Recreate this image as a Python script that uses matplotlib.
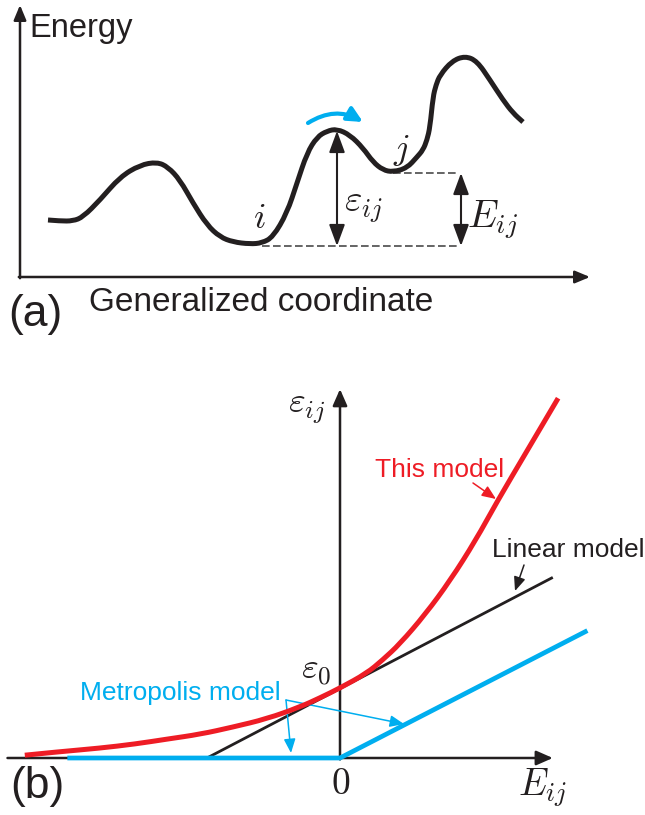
import matplotlib
matplotlib.use("Agg")
import matplotlib.pyplot as plt
from matplotlib.patches import FancyArrowPatch, PathPatch
from matplotlib.path import Path

plt.rcParams['font.family'] = ['Liberation Sans', 'DejaVu Sans']
plt.rcParams['mathtext.fontset'] = 'cm'

# ---------------- data ----------------
# panel (a): energy landscape along a generalized coordinate
coord_a = [0.28, 0.40, 0.53, 0.63, 0.80, 1.00, 1.20, 1.37, 1.48, 1.60, 1.73, 1.87,
           2.00, 2.13, 2.30, 2.42, 2.53, 2.67, 2.77, 2.87, 2.97, 3.07, 3.17, 3.30,
           3.43, 3.53, 3.63, 3.73, 3.87, 3.97, 4.03, 4.07, 4.10, 4.13, 4.16, 4.20,
           4.32, 4.45, 4.57, 4.70, 4.83, 4.93, 5.03]
energy_a = [0.57, 0.56, 0.56, 0.60, 0.77, 1.00, 1.12, 1.15, 1.10, 0.97, 0.74, 0.52,
            0.40, 0.35, 0.33, 0.34, 0.40, 0.64, 0.94, 1.24, 1.40, 1.46, 1.48, 1.42,
            1.29, 1.15, 1.07, 1.05, 1.09, 1.20, 1.27, 1.37, 1.50, 1.80, 1.92, 2.02,
            2.16, 2.21, 2.16, 1.97, 1.77, 1.64, 1.55]
level_i = 0.31      # energy of state i (dashed line)
level_j = 1.04      # energy of state j (dashed line)
barrier_top = 1.46  # energy at saddle between i and j
x_barrier = 3.17
x_Eij = 4.41

# panel (b): activation energy vs energy difference
E_this = [-2.37, -2.11, -1.81, -1.54, -1.30, -1.05, -0.81, -0.55, -0.30, -0.15,
          0.00, 0.20, 0.32, 0.45, 0.64, 0.83, 1.02, 1.18, 1.41, 1.64]
eps_this = [0.04, 0.09, 0.14, 0.20, 0.27, 0.34, 0.44, 0.56, 0.73, 0.86,
            1.00, 1.21, 1.40, 1.63, 2.05, 2.54, 3.11, 3.66, 4.40, 5.14]
E_lin = [-1.00, 1.60]
eps_lin = [0.00, 2.58]
E_met = [-2.05, 0.00, 1.86]
eps_met = [0.00, 0.00, 1.82]

BLACK = '#231F20'
RED = '#EE1C25'
BLUE = '#00AEEF'

W, H = 645, 815
fig = plt.figure(figsize=(6.45, 8.15), dpi=100)
fig.patch.set_facecolor('white')


def fp(x, y):
    return (x / W, 1 - y / H)


def ftext(x, y, s, **kw):
    fig.text(*fp(x, y), s, transform=fig.transFigure, **kw)


def smooth_curve(ax, xs, ys, **kw):
    """Draw a smooth quadratic-Bezier line through the given read points."""
    pts = list(zip(xs, ys))
    verts = [pts[0]]
    codes = [Path.MOVETO]
    for k in range(1, len(pts) - 1):
        mid = ((pts[k][0] + pts[k + 1][0]) / 2, (pts[k][1] + pts[k + 1][1]) / 2)
        verts += [pts[k], mid]
        codes += [Path.CURVE3, Path.CURVE3]
    verts.append(pts[-1])
    codes.append(Path.LINETO)
    patch = PathPatch(Path(verts, codes), fill=False, transform=ax.transData,
                      capstyle='butt', joinstyle='round', **kw)
    ax.add_patch(patch)


# ---------------- panel (a) ----------------
ax_a = fig.add_axes([0, 0, 1, 1])
ax_a.set_xlim(-0.20, 6.25)
ax_a.set_ylim(-5.38, 2.77)
ax_a.axis('off')

ax_a.annotate('', xy=(0, 2.72), xytext=(0, -0.012),
              arrowprops=dict(arrowstyle='-|>,head_length=0.6,head_width=0.25',
                              lw=1.8, color=BLACK, shrinkA=0, shrinkB=0,
                              mutation_scale=15))
ax_a.annotate('', xy=(5.70, 0), xytext=(-0.012, 0),
              arrowprops=dict(arrowstyle='-|>,head_length=0.6,head_width=0.25',
                              lw=1.8, color=BLACK, shrinkA=0, shrinkB=0,
                              mutation_scale=15))

smooth_curve(ax_a, coord_a, energy_a, edgecolor=BLACK, lw=3.6, zorder=3)

ax_a.plot([2.42, 4.38], [level_i, level_i], color='#3a3a3a', lw=1.1,
          linestyle=(0, (5, 2.2)))
ax_a.plot([3.73, 4.38], [level_j, level_j], color='#3a3a3a', lw=1.1,
          linestyle=(0, (5, 2.2)))

for xa, y0, y1 in [(x_barrier, level_i, barrier_top), (x_Eij, level_i, level_j)]:
    ax_a.annotate('', xy=(xa, y1), xytext=(xa, y0),
                  arrowprops=dict(arrowstyle='<|-|>,head_length=0.65,head_width=0.24',
                                  lw=1.5, color=BLACK, shrinkA=0, shrinkB=0,
                                  mutation_scale=20))

arc = FancyArrowPatch(posA=(2.88, 1.54), posB=(3.43, 1.55),
                      connectionstyle='arc3,rad=-0.3',
                      arrowstyle='-|>,head_length=0.45,head_width=0.22',
                      mutation_scale=20, lw=3.0, color=BLUE,
                      shrinkA=0, shrinkB=0)
ax_a.add_patch(arc)

ftext(29, 37, 'Energy', fontsize=23.5, ha='left', va='baseline', color=BLACK)
ftext(89, 311, 'Generalized coordinate', fontsize=24, ha='left', va='baseline',
      color=BLACK)
ftext(8, 326, '(a)', fontsize=32, ha='left', va='baseline', color=BLACK)
ftext(259, 219, r'$i$', fontsize=26, ha='center', va='center', color=BLACK)
ftext(401, 151, r'$j$', fontsize=26, ha='center', va='center', color=BLACK)
ftext(363, 207, r'$\varepsilon_{ij}$', fontsize=27, ha='center', va='center',
      color=BLACK)
ftext(492, 220, r'$E_{ij}$', fontsize=28, ha='center', va='center', color=BLACK)

# ---------------- panel (b) ----------------
ax_b = fig.add_axes([0, 0, 1, 1])
ax_b.set_xlim(-2.5564, 2.2932)
ax_b.set_ylim(-0.8143, 10.8286)
ax_b.axis('off')
ax_b.patch.set_alpha(0)

ax_b.annotate('', xy=(1.60, 0), xytext=(-2.50, 0),
              arrowprops=dict(arrowstyle='-|>,head_length=0.5,head_width=0.22',
                              lw=1.8, color=BLACK, shrinkA=0, shrinkB=0,
                              mutation_scale=20))
ax_b.annotate('', xy=(0, 5.27), xytext=(0, -0.02),
              arrowprops=dict(arrowstyle='-|>,head_length=0.5,head_width=0.22',
                              lw=1.8, color=BLACK, shrinkA=0, shrinkB=0,
                              mutation_scale=20))

ax_b.plot(E_lin, eps_lin, color=BLACK, lw=2.0, solid_capstyle='butt', zorder=3)
smooth_curve(ax_b, E_this, eps_this, edgecolor=RED, lw=3.6, zorder=4)
ax_b.plot(E_met, eps_met, color=BLUE, lw=3.4, solid_joinstyle='miter',
          solid_capstyle='butt', zorder=5)

thin = dict(shrinkA=0, shrinkB=0, mutation_scale=14, lw=1.1,
            arrowstyle='-|>,head_length=0.6,head_width=0.25')
fig_ann = dict(xycoords='figure fraction', textcoords='figure fraction')
ax_b.annotate('', xy=fp(496, 499), xytext=fp(473, 483),
              arrowprops=dict(color=RED, **thin), **fig_ann)
ax_b.annotate('', xy=fp(515, 591), xytext=fp(524, 565),
              arrowprops=dict(color=BLACK, **thin), **fig_ann)
ax_b.annotate('', xy=fp(291, 753), xytext=fp(286, 700),
              arrowprops=dict(color=BLUE, **thin), **fig_ann)
ax_b.annotate('', xy=fp(404, 724), xytext=fp(286, 700),
              arrowprops=dict(color=BLUE, **thin), **fig_ann)

ftext(375, 477, 'This model', fontsize=19, ha='left', va='baseline', color=RED)
ftext(492, 557, 'Linear model', fontsize=19, ha='left', va='baseline', color=BLACK)
ftext(80, 700, 'Metropolis model', fontsize=19, ha='left', va='baseline', color=BLUE)

ftext(307, 409, r'$\varepsilon_{ij}$', fontsize=26, ha='center', va='center',
      color=BLACK)
ftext(316, 671, r'$\varepsilon_0$', fontsize=26, ha='center', va='center',
      color=BLACK)
ftext(341, 784, r'$0$', fontsize=27, ha='center', va='center', color=BLACK)
ftext(543, 788, r'$E_{ij}$', fontsize=27, ha='center', va='center', color=BLACK)
ftext(10, 798, '(b)', fontsize=32, ha='left', va='baseline', color=BLACK)

fig.savefig('out.png', dpi=100, facecolor='white')
